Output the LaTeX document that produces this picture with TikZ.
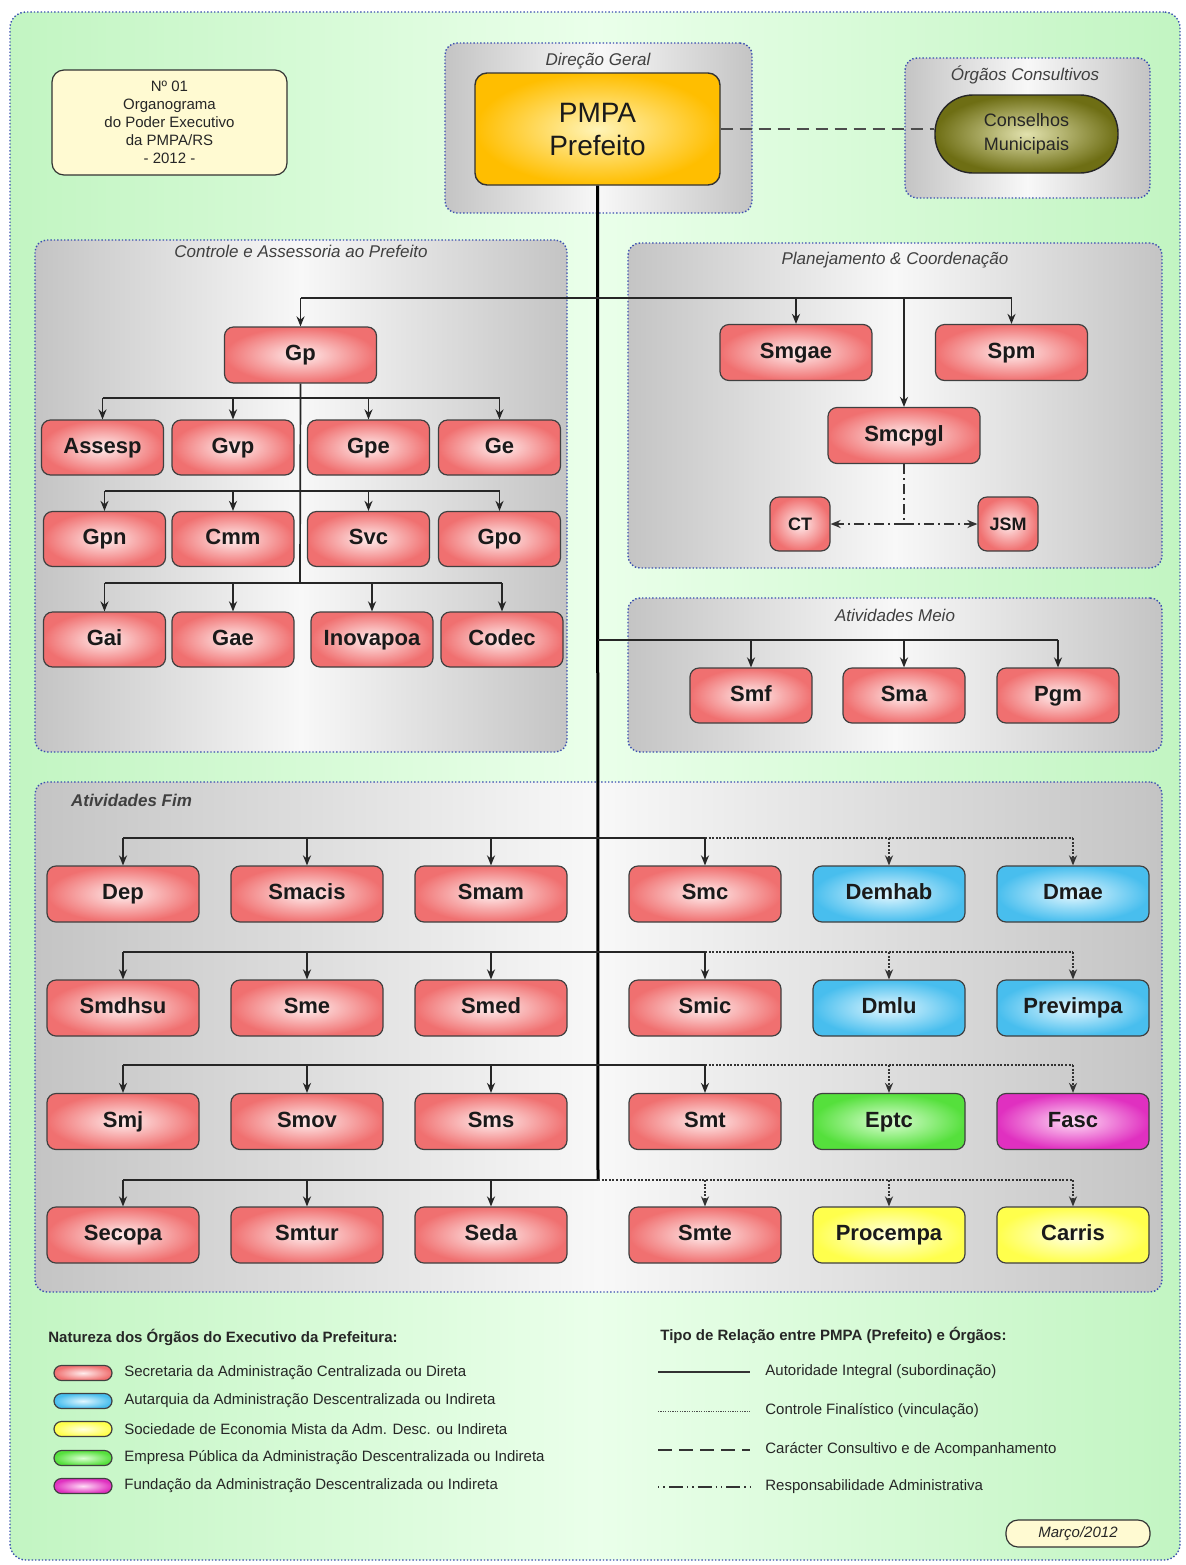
\documentclass[tikz,border=0pt]{standalone}
\usepackage{fontspec}
\setmainfont{Liberation Sans}
\usetikzlibrary{arrows.meta,shapes.misc}
\definecolor{bgS}{HTML}{C2F5C2}
\definecolor{bgM}{HTML}{EAFFEA}
\definecolor{grS}{HTML}{C4C4C4}
\definecolor{grM}{HTML}{F8F8F8}
\definecolor{gbord}{HTML}{3A4FB0}
\definecolor{redO}{HTML}{F07070}
\definecolor{redI}{HTML}{FFEDED}
\definecolor{bluO}{HTML}{48BEEE}
\definecolor{bluI}{HTML}{E2F7FF}
\definecolor{grnO}{HTML}{55E03C}
\definecolor{grnI}{HTML}{DCFFD4}
\definecolor{magO}{HTML}{E030C0}
\definecolor{magI}{HTML}{FFDDF6}
\definecolor{yelO}{HTML}{FFFF4C}
\definecolor{yelI}{HTML}{FFFFE4}
\definecolor{orO}{HTML}{FFBE00}
\definecolor{orI}{HTML}{FFF4B8}
\definecolor{olO}{HTML}{6E6E14}
\definecolor{olI}{HTML}{E2E2AE}
\definecolor{infoF}{HTML}{FFFAD2}
\definecolor{txt}{HTML}{1A1A1A}
\begin{document}
\begin{tikzpicture}[x=0.5pt,y=-0.5pt,
  grp/.style={draw=gbord, densely dotted, line width=0.7pt, rounded corners=6pt,
    left color=grS, right color=grS, middle color=grM, inner sep=0pt},
  grptitle/.style={font=\itshape\fontsize{8.5}{10}\selectfont, text=black!75},
  orgbox/.style={draw=black!75, line width=0.6pt, rounded corners=4.5pt, inner sep=0pt,
    font=\bfseries\fontsize{11}{13}\selectfont, text=txt, text height=8pt, text depth=2.2pt},
  rbox/.style={orgbox, inner color=redI, outer color=redO},
  bbox/.style={orgbox, inner color=bluI, outer color=bluO},
  gbox/.style={orgbox, inner color=grnI, outer color=grnO},
  mbox/.style={orgbox, inner color=magI, outer color=magO},
  ybox/.style={orgbox, inner color=yelI, outer color=yelO},
  capsz/.style={minimum width=61pt, minimum height=27.5pt},
  bigsz/.style={minimum width=76pt, minimum height=28pt},
  mesz/.style={minimum width=61pt, minimum height=27.5pt},
  bus/.style={draw=black!85, line width=0.85pt},
  trunk/.style={draw=black, line width=1.5pt},
  arr/.style={draw=black!85, line width=0.85pt, -{Stealth[length=5pt,width=4pt]}},
  fin/.style={draw=black!80, line width=0.85pt, dash pattern=on 1pt off 0.8pt},
  finarr/.style={fin, -{Stealth[length=5pt,width=4pt]}},
  adm/.style={draw=black!80, line width=0.85pt, dash pattern=on 5pt off 2pt on 1pt off 2pt},
  admarr/.style={adm, -{Stealth[length=5pt,width=4pt]}},
  swatch/.style={draw=black!75, line width=0.6pt, rounded corners=3.75pt, minimum width=29pt, minimum height=7.5pt, inner sep=0pt},
  legtxt/.style={anchor=west, font=\fontsize{7.5}{9}\selectfont, text=black!85, inner sep=0pt}
]
\useasboundingbox (0,0) rectangle (1186,1565);
\fill[white] (0,0) rectangle (1186,1565);
% background
\node[draw=gbord, densely dotted, line width=0.7pt, rounded corners=8pt, left color=bgS, right color=bgS, middle color=bgM,
  minimum width=585pt, minimum height=774pt, inner sep=0pt] (bg) at (595,786) {};

% groups
\node[grp, minimum width=153.5pt, minimum height=85pt] (gdir) at (598.5,128) {};
\node[grptitle] (tdir) at (598,61) {Direção Geral};
\node[grp, minimum width=122.5pt, minimum height=70pt] (gcons) at (1027.5,128) {};
\node[grptitle] (tcons) at (1025,75) {Órgãos Consultivos};
\node[grp, minimum width=266pt, minimum height=256pt] (gcap) at (301,496) {};
\node[grptitle] (tcap) at (301,251) {Controle e Assessoria ao Prefeito};
\node[grp, minimum width=267pt, minimum height=162.5pt] (gplan) at (895,405.5) {};
\node[grptitle] (tplan) at (895,260) {Planejamento \& Coordenação};
\node[grp, minimum width=267pt, minimum height=77pt] (gmeio) at (895,675) {};
\node[grptitle] (tmeio) at (895,615) {Atividades Meio};
\node[grp, minimum width=563.5pt, minimum height=255pt] (gfim) at (598.5,1037) {};
\node[grptitle, anchor=west, font=\bfseries\itshape\fontsize{8.5}{10}\selectfont] (tfim) at (64,800) {Atividades Fim};

% info box
\node[draw=black!80, line width=0.6pt, rounded corners=6pt, fill=infoF, minimum width=117.5pt, minimum height=52.5pt,
  align=center, font=\fontsize{7.5}{9}\selectfont, text=black!85, inner sep=0pt] (info) at (169.5,122.5)
  {Nº 01\\Organograma\\do Poder Executivo\\da PMPA/RS\\- 2012 -};

% top nodes
\node[draw=black!80, line width=0.7pt, rounded corners=6pt, inner color=orI, outer color=orO,
  minimum width=122.5pt, minimum height=56pt, align=center, font=\fontsize{14}{16.5}\selectfont, text=txt] (pref) at (597.5,129) {PMPA\\Prefeito};
\node[draw=black!85, line width=0.7pt, rounded corners=19pt, inner color=olI, outer color=olO,
  minimum width=91.5pt, minimum height=39pt, align=center, font=\fontsize{9}{12}\selectfont, text=black!85] (cons) at (1026.5,134) {Conselhos\\Municipais};

% Controle e Assessoria
\node[rbox, bigsz] (gp) at (300.5,355) {Gp};
\node[rbox, capsz] (assesp) at (102.5,447.5) {Assesp};
\node[rbox, capsz] (gvp) at (233,447.5) {Gvp};
\node[rbox, capsz] (gpe) at (368.5,447.5) {Gpe};
\node[rbox, capsz] (ge) at (499.5,447.5) {Ge};
\node[rbox, capsz] (gpn) at (104.5,539) {Gpn};
\node[rbox, capsz] (cmm) at (233,539) {Cmm};
\node[rbox, capsz] (svc) at (368.5,539) {Svc};
\node[rbox, capsz] (gpo) at (499.5,539) {Gpo};
\node[rbox, capsz] (gai) at (104.5,639.5) {Gai};
\node[rbox, capsz] (gae) at (233,639.5) {Gae};
\node[rbox, capsz] (inov) at (372,639.5) {Inovapoa};
\node[rbox, capsz] (codec) at (502,639.5) {Codec};

% Planejamento
\node[rbox, bigsz] (smgae) at (796,352.5) {Smgae};
\node[rbox, bigsz] (spm) at (1011.5,352.5) {Spm};
\node[rbox, bigsz] (smcpgl) at (904,435.5) {Smcpgl};
\node[rbox, minimum width=30pt, minimum height=27pt, font=\bfseries\fontsize{9}{11}\selectfont, text height=6.5pt, text depth=0pt] (ct) at (800,524) {CT};
\node[rbox, minimum width=30pt, minimum height=27pt, font=\bfseries\fontsize{9}{11}\selectfont, text height=6.5pt, text depth=0pt] (jsm) at (1008,524) {JSM};

% Meio
\node[rbox, mesz] (smf) at (751,695.5) {Smf};
\node[rbox, mesz] (sma) at (904,695.5) {Sma};
\node[rbox, mesz] (pgm) at (1058,695.5) {Pgm};

% Fim
\node[rbox, bigsz] (dep) at (123,894) {Dep};
\node[rbox, bigsz] (smacis) at (307,894) {Smacis};
\node[rbox, bigsz] (smam) at (491,894) {Smam};
\node[rbox, bigsz] (smc) at (705,894) {Smc};
\node[bbox, bigsz] (demhab) at (889,894) {Demhab};
\node[bbox, bigsz] (dmae) at (1073,894) {Dmae};
\node[rbox, bigsz] (smdhsu) at (123,1008) {Smdhsu};
\node[rbox, bigsz] (sme) at (307,1008) {Sme};
\node[rbox, bigsz] (smed) at (491,1008) {Smed};
\node[rbox, bigsz] (smic) at (705,1008) {Smic};
\node[bbox, bigsz] (dmlu) at (889,1008) {Dmlu};
\node[bbox, bigsz] (previmpa) at (1073,1008) {Previmpa};
\node[rbox, bigsz] (smj) at (123,1121.5) {Smj};
\node[rbox, bigsz] (smov) at (307,1121.5) {Smov};
\node[rbox, bigsz] (sms) at (491,1121.5) {Sms};
\node[rbox, bigsz] (smt) at (705,1121.5) {Smt};
\node[gbox, bigsz] (eptc) at (889,1121.5) {Eptc};
\node[mbox, bigsz] (fasc) at (1073,1121.5) {Fasc};
\node[rbox, bigsz] (secopa) at (123,1235) {Secopa};
\node[rbox, bigsz] (smtur) at (307,1235) {Smtur};
\node[rbox, bigsz] (seda) at (491,1235) {Seda};
\node[rbox, bigsz] (smte) at (705,1235) {Smte};
\node[ybox, bigsz] (procempa) at (889,1235) {Procempa};
\node[ybox, bigsz] (carris) at (1073,1235) {Carris};

% bus coordinates
\coordinate (tb1) at (598,298);
\coordinate (c1) at (300,398);
\coordinate (c2) at (300,491);
\coordinate (c3) at (300,583);
\coordinate (tm) at (598,640);
\coordinate (tf1) at (598,838);
\coordinate (tf2) at (598,952);
\coordinate (tf3) at (598,1065);
\coordinate (tf4) at (598,1180);

% connectors
\draw[dash pattern=on 6pt off 3.5pt, draw=black!70, line width=0.9pt] (pref.east) -- (pref.east -| cons.west);
\draw[trunk] (pref.south) -- (tf4);
\draw[bus] (gp.north |- tb1) -- (spm.north |- tb1);
\draw[arr] (gp.north |- tb1) -- (gp.north);
\draw[arr] (smgae.north |- tb1) -- (smgae.north);
\draw[arr] (spm.north |- tb1) -- (spm.north);
\draw[arr] (smcpgl.north |- tb1) -- (smcpgl.north);
% Gp subtree
\draw[bus] (gp.south) -- (c3);
\draw[bus] (assesp.north |- c1) -- (ge.north |- c1);
\foreach \n in {assesp,gvp,gpe,ge} \draw[arr] (\n.north |- c1) -- (\n.north);
\draw[bus] (gpn.north |- c2) -- (gpo.north |- c2);
\foreach \n in {gpn,cmm,svc,gpo} \draw[arr] (\n.north |- c2) -- (\n.north);
\draw[bus] (gai.north |- c3) -- (codec.north |- c3);
\foreach \n in {gai,gae,inov,codec} \draw[arr] (\n.north |- c3) -- (\n.north);
% Smcpgl admin
\coordinate (adj) at (smcpgl.south |- ct.east);
\draw[adm] (smcpgl.south) -- (adj);
\draw[admarr] (adj) -- (ct.east);
\draw[admarr] (adj) -- (jsm.west);
% Meio
\draw[bus] (tm) -- (pgm.north |- tm);
\foreach \n in {smf,sma,pgm} \draw[arr] (\n.north |- tm) -- (\n.north);
% Fim rows 1-3
\draw[bus] (dep.north |- tf1) -- (smc.north |- tf1);
\draw[fin] (smc.north |- tf1) -- (dmae.north |- tf1);
\foreach \n in {dep,smacis,smam,smc} \draw[arr] (\n.north |- tf1) -- (\n.north);
\foreach \n in {demhab,dmae} \draw[finarr] (\n.north |- tf1) -- (\n.north);
\draw[bus] (smdhsu.north |- tf2) -- (smic.north |- tf2);
\draw[fin] (smic.north |- tf2) -- (previmpa.north |- tf2);
\foreach \n in {smdhsu,sme,smed,smic} \draw[arr] (\n.north |- tf2) -- (\n.north);
\foreach \n in {dmlu,previmpa} \draw[finarr] (\n.north |- tf2) -- (\n.north);
\draw[bus] (smj.north |- tf3) -- (smt.north |- tf3);
\draw[fin] (smt.north |- tf3) -- (fasc.north |- tf3);
\foreach \n in {smj,smov,sms,smt} \draw[arr] (\n.north |- tf3) -- (\n.north);
\foreach \n in {eptc,fasc} \draw[finarr] (\n.north |- tf3) -- (\n.north);
% row 4
\draw[bus] (secopa.north |- tf4) -- (tf4);
\draw[fin] (tf4) -- (carris.north |- tf4);
\foreach \n in {secopa,smtur,seda} \draw[arr] (\n.north |- tf4) -- (\n.north);
\foreach \n in {smte,procempa,carris} \draw[finarr] (\n.north |- tf4) -- (\n.north);

% legend left
\node[legtxt, font=\bfseries\fontsize{7.5}{9}\selectfont] (nat) at (48,1337) {Natureza dos Órgãos do Executivo da Prefeitura:};
\node[swatch, inner color=redI, outer color=redO] (sw1) at (83,1373) {};
\node[swatch, inner color=bluI, outer color=bluO] (sw2) at (83,1401) {};
\node[swatch, inner color=yelI, outer color=yelO] (sw3) at (83,1429) {};
\node[swatch, inner color=grnI, outer color=grnO] (sw4) at (83,1458) {};
\node[swatch, inner color=magI, outer color=magO] (sw5) at (83,1486) {};
\node[legtxt] (lt1) at (124,1373) {Secretaria da Administração Centralizada ou Direta};
\node[legtxt] (lt2) at (124,1401) {Autarquia da Administração Descentralizada ou Indireta};
\node[legtxt] (lt3) at (124,1429) {Sociedade de Economia Mista da Adm. Desc. ou Indireta};
\node[legtxt] (lt4) at (124,1458) {Empresa Pública da Administração Descentralizada ou Indireta};
\node[legtxt] (lt5) at (124,1486) {Fundação da Administração Descentralizada ou Indireta};

% legend right
\node[legtxt, font=\bfseries\fontsize{7.5}{9}\selectfont] (rel) at (660,1335) {Tipo de Relação entre PMPA (Prefeito) e Órgãos:};
\node[legtxt] (rt1) at (765,1372) {Autoridade Integral (subordinação)};
\node[legtxt] (rt2) at (765,1411) {Controle Finalístico (vinculação)};
\node[legtxt] (rt3) at (765,1450) {Carácter Consultivo e de Acompanhamento};
\node[legtxt] (rt4) at (765,1487) {Responsabilidade Administrativa};
\coordinate (ls1) at (658,1372);
\coordinate (ls2) at (658,1411);
\coordinate (ls3) at (658,1450);
\coordinate (ls4) at (658,1487);
\draw[draw=black!80, line width=0.6pt] (ls1) -- ++(92,0);
\draw[draw=black!70, line width=0.5pt, dash pattern=on 0.6pt off 0.6pt] (ls2) -- ++(92,0);
\draw[draw=black!80, line width=0.7pt, dash pattern=on 7pt off 3.5pt] (ls3) -- ++(92,0);
\draw[draw=black!80, line width=0.7pt, dash pattern=on 0.7pt off 2pt on 0.7pt off 2pt on 7pt off 2pt] (ls4) -- ++(92,0);

% date
\node[draw=black!80, line width=0.6pt, rounded corners=6pt, fill=infoF, minimum width=72pt, minimum height=13.5pt,
  font=\itshape\fontsize{7.5}{9}\selectfont, text=black!85, inner sep=0pt] (date) at (1078,1533.5) {Março/2012};
\end{tikzpicture}
\end{document}
